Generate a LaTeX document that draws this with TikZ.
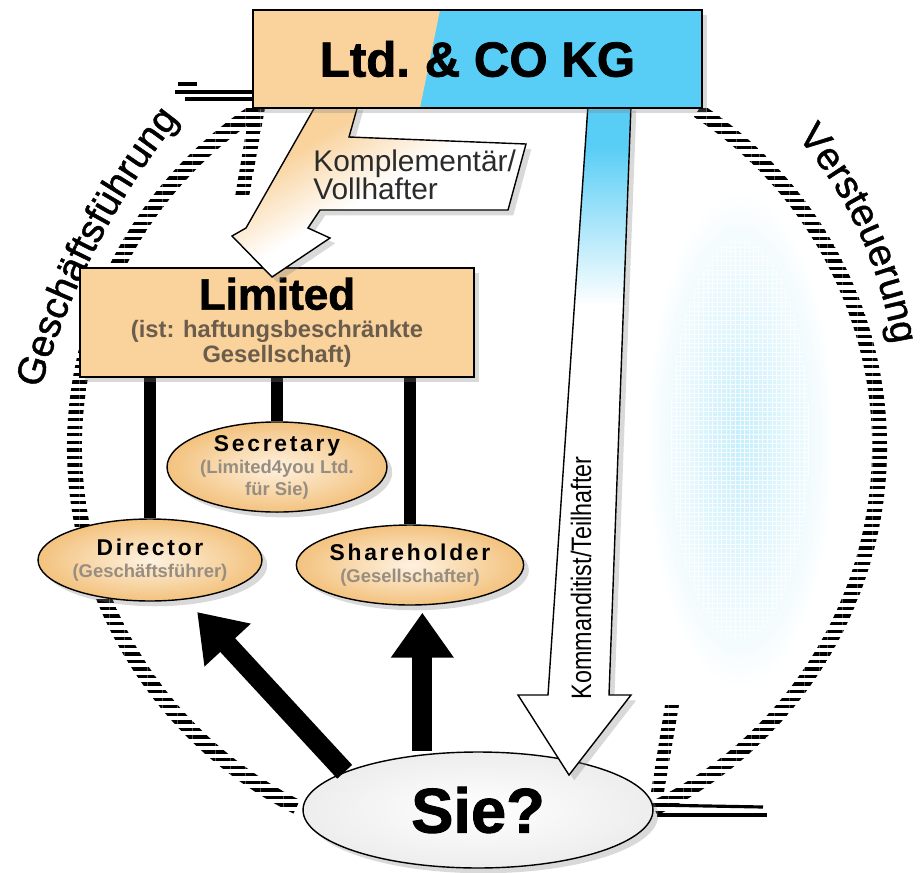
\documentclass[tikz,border=0pt]{standalone}
\usepackage{fontspec}
\usepackage{graphicx}
\setmainfont{Liberation Sans}
\usetikzlibrary{arrows.meta,calc,shapes.geometric,shadows,patterns.meta,decorations.text,backgrounds}

\definecolor{kgorange}{HTML}{F9D29C}
\definecolor{kgcyan}{HTML}{58CDF5}
\definecolor{ellin}{HTML}{FEF2E0}
\definecolor{ellout}{HTML}{F3C27E}
\definecolor{limsub}{HTML}{6B5C4B}
\definecolor{ellsub}{HTML}{978D80}
\definecolor{flagtext}{HTML}{2B2B2B}

\pgfdeclareverticalshading{kmdfade}{100bp}{color(0bp)=(white); color(60bp)=(white); color(72bp)=(kgcyan); color(100bp)=(kgcyan)}
\pgfdeclareverticalshading{kplfade}{100bp}{color(0bp)=(white); color(50bp)=(white); color(68bp)=(kgorange); color(100bp)=(kgorange)}

\begin{document}
\begin{tikzpicture}[x=0.02cm,y=-0.02cm,
    soft/.style={drop shadow={shadow xshift=3pt,shadow yshift=-3pt,opacity=0.3}},
    hatch/.style={pattern={Lines[distance=4.3pt,line width=1.9pt]},pattern color=black},
    barline/.style={line width=1.8pt},
    bigbox/.style={draw,line width=1pt,soft,inner sep=0pt,align=center},
    role/.style={ellipse,draw,line width=0.8pt,inner color=ellin,outer color=ellout,soft,inner sep=0pt,align=center,
      minimum width=4.4cm,minimum height=1.6cm,font=\fontsize{10.5}{12.5}\selectfont\bfseries},
    stem/.style={line width=7pt},
    fatarrow/.style={line width=11.5pt,-{Triangle[width=1.2cm,length=0.9cm]}},
    blockarrow/.style={draw,line width=0.8pt,soft},
    curved/.style={decorate,decoration={text along path,text align=center,
      text={|\fontsize{22}{22}\selectfont\addfontfeatures{FakeBold=1.2}|#1}}}
  ]
  \useasboundingbox (0,0) rectangle (924,873);

  % glow on the right
  \shade[inner color=kgcyan!35,outer color=white] (740,440) ellipse[x radius=95,y radius=250];
  \fill[pattern={Hatch[distance=2.6pt,line width=0.5pt]},pattern color=white,opacity=0.8] (740,440) ellipse[x radius=70,y radius=200];

  % hatched ring
  \coordinate (ctr) at (477,447);
  \fill[hatch] ($(ctr)+(236.3:410)$) arc[start angle=236.3,end angle=116.6,radius=410]
    -- ($(ctr)+(116.6:395)$) arc[start angle=116.6,end angle=236.3,radius=395] -- cycle;
  \fill[hatch] ($(ctr)+(-56.7:410)$) arc[start angle=-56.7,end angle=63.9,radius=410]
    -- ($(ctr)+(63.9:395)$) arc[start angle=63.9,end angle=-56.7,radius=395] -- cycle;
  \fill[hatch] (250,108) -- (265,108) -- (249,197) -- (235,197) -- cycle;
  \fill[hatch] (665,705) -- (679,705) -- (664,792) -- (651,792) -- cycle;
  \draw[barline] (175,92) -- (252,92);
  \draw[barline] (185,99) -- (253,99);
  \draw[barline] (178,84) -- (197,84);
  \draw[barline] (653,805) -- (763,807);
  \draw[barline] (657,815) -- (767,815);

  \path[curved=Geschäftsführung] (40,390) .. controls (69,290) and (115,200) .. (180,118);
  \path[curved=Versteuerung] (800,140) .. controls (849,198) and (879,265) .. (892,340);

  % Limited with its officers
  \node[bigbox,fill=kgorange,minimum width=7.88cm,minimum height=2.18cm,font=\fontsize{13.5}{14}\selectfont\bfseries] (limited) at (277,322.5)
    {{\fontsize{25}{27}\selectfont\addfontfeatures{FakeBold=1.5}Limited}\\[2pt]\textcolor{limsub}{(ist: haftungsbeschränkte}\\\textcolor{limsub}{Gesellschaft)}};
  \node[role,minimum width=4.48cm,minimum height=1.64cm] (director) at (150,560)
    {{\fontsize{13}{15}\selectfont\addfontfeatures{LetterSpace=12}Director}\\\textcolor{ellsub}{(Geschäftsführer)}};
  \node[role] (secretary) at (277,467)
    {{\fontsize{13}{15}\selectfont\addfontfeatures{LetterSpace=12}Secretary}\\\textcolor{ellsub}{(Limited4you Ltd.}\\\textcolor{ellsub}{für Sie)}};
  \node[role] (shareholder) at (410,565)
    {{\fontsize{13}{15}\selectfont\addfontfeatures{LetterSpace=12}Shareholder}\\\textcolor{ellsub}{(Gesellschafter)}};
  \begin{scope}[on background layer]
    \draw[stem] (limited.south -| director.north) -- (director.north);
    \draw[stem] (limited.south) -- (secretary.north);
    \draw[stem] (limited.south -| shareholder.north) -- (shareholder.north);
  \end{scope}

  % you
  \node[ellipse,draw,line width=0.8pt,inner color=white,outer color=gray!14,soft,
    minimum width=7cm,minimum height=2.32cm,font=\fontsize{36}{40}\selectfont\bfseries\addfontfeatures{FakeBold=1.5}] (sie) at (478,810) {Sie?};
  \draw[fatarrow,shorten >=0.34cm] (sie.164) -- (director.-48);
  \draw[fatarrow,shorten >=0.14cm,shorten <=0.06cm] (sie.135) -- (sie.135 |- shareholder.south);

  % block arrows from the KG
  \draw[blockarrow,shading=kplfade,shading angle=30] (316,105) -- (358,105) -- (349,137) -- (526,144)
    -- (508,210) -- (320,210) -- (308,228) -- (330,238) -- (272,277) -- (232,236) -- (246,228) -- cycle;
  \node[anchor=north west,inner sep=0pt,align=left,text=flagtext,font=\fontsize{17}{16.5}\selectfont] (kpltext) at (313,149)
    {Komplementär/\\Vollhafter};
  \draw[blockarrow,shading=kmdfade] (588,105) -- (631,105) -- (609,695) -- (631,695) -- (569,775)
    -- (518,695) -- (548,695) -- cycle;
  \node[rotate=90,inner sep=0pt,font=\fontsize{16}{16}\selectfont] (kmdtext) at (581,578)
    {\scalebox{0.83}[1]{Kommanditist/Teilhafter}};

  \node[bigbox,fill=kgcyan,minimum width=8.98cm,minimum height=1.96cm,font=\fontsize{28}{32}\selectfont\bfseries\addfontfeatures{FakeBold=1.5},
    path picture={\fill[kgorange] (path picture bounding box.north west) -- ([xshift=3.74cm]path picture bounding box.north west)
      -- ([xshift=3.34cm]path picture bounding box.south west) -- (path picture bounding box.south west) -- cycle;}]
    (kg) at (477.5,59) {Ltd.\hspace{0.3em}\& CO KG};
\end{tikzpicture}
\end{document}
